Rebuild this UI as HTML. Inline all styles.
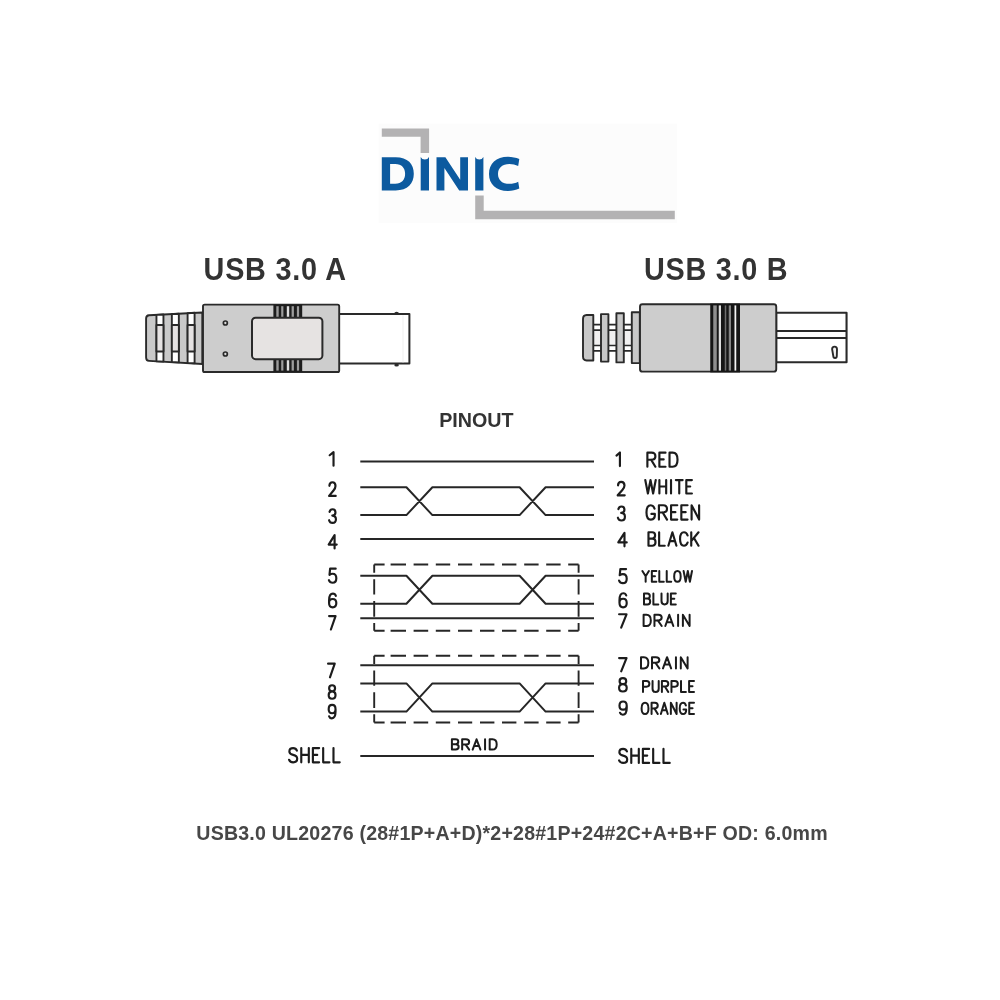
<!DOCTYPE html>
<html><head><meta charset="utf-8"><title>USB 3.0 A - USB 3.0 B pinout</title>
<style>
html,body{margin:0;padding:0;background:#fff;}
body{width:1000px;height:1000px;overflow:hidden;font-family:"Liberation Sans",sans-serif;}
svg{display:block;}
</style></head><body>
<svg width="1000" height="1000" viewBox="0 0 1000 1000">
<defs><filter id="soft" filterUnits="userSpaceOnUse" x="0" y="0" width="1000" height="1000" color-interpolation-filters="sRGB"><feGaussianBlur stdDeviation="0.4"/></filter></defs>
<rect width="1000" height="1000" fill="#ffffff"/>
<g filter="url(#soft)">

<rect x="378.6" y="123.6" width="298.5" height="99.6" fill="#fcfcfc"/>
<path d="M381.8,128.4 H429.1 V153 H420.6 V136.8 H381.8 Z" fill="#b3b2b3"/>
<path d="M475.2,195.6 H483.7 V210.8 H674.8 V219.3 H475.2 Z" fill="#b3b2b3"/>
<g fill="#0c5a9f"><title>DINIC</title>
<path fill-rule="evenodd" d="M381.8,157.2 H395.6 C407.8,157.2 413.8,163.9 413.8,173.8 C413.8,183.7 407.8,190.4 395.6,190.4 H381.8 Z M390.1,163.9 V183.7 H395.2 C401.8,183.7 405.1,179.8 405.1,173.8 C405.1,167.8 401.8,163.9 395.2,163.9 Z"/>
<path d="M420.7,156.9 A4.6,4.6 0 0 0 429,156.9 V190.4 H420.7 Z"/>
<path d="M436.5,190.4 V157.2 H445.4 L460.2,179.8 V157.2 H468 V190.4 H459.2 L444.4,167.9 V190.4 Z"/>
<path d="M475.2,156.9 A4.6,4.6 0 0 0 483.4,156.9 V190.4 H475.2 Z"/>
<path d="M519.3,159.1 C516,157.7 512,156.8 508,156.8 C496,156.8 489,163.8 489,173.9 C489,184 496,190.9 508,190.9 C512,190.9 516,190 519.3,188.6 L518.2,181.7 C515.6,183 512.6,183.8 509.4,183.8 C502.3,183.8 498,180 498,173.9 C498,167.8 502.3,163.9 509.4,163.9 C512.6,163.9 515.6,164.8 518.2,166.1 Z"/>
</g>

<g font-family="Liberation Sans, sans-serif" font-weight="bold">
<text transform="translate(203.6,279.8) scale(1,1.1)" font-size="28.8" letter-spacing="0.75" fill="#333">USB 3.0 A</text>
<text transform="translate(644,279.8) scale(1,1.1)" font-size="28.8" letter-spacing="0.75" fill="#333">USB 3.0 B</text>
<text transform="translate(439.2,426.8) scale(1,1.025)" font-size="19.7" fill="#333">PINOUT</text>
<text transform="translate(196.3,840.1) scale(1,1.045)" font-size="19.6" letter-spacing="0.205" fill="#474747">USB3.0 UL20276 (28#1P+A+D)*2+28#1P+24#2C+A+B+F OD: 6.0mm</text>
</g>
<!-- ============ USB 3.0 A connector ============ -->
<g stroke="#2a2a2a" stroke-width="1.9" stroke-linejoin="round">
  <!-- metal plug -->
  <ellipse cx="396.6" cy="313.3" rx="2.3" ry="1.5" fill="#2b2b2b" stroke="none"/>
  <ellipse cx="396.6" cy="364.9" rx="2.3" ry="1.5" fill="#2b2b2b" stroke="none"/>
  <rect x="339" y="314" width="70.4" height="49.4" fill="#ffffff" stroke-width="2"/>
  <path d="M403,315.2 V362.4" stroke="#efefef" stroke-width="1" fill="none"/>
  <!-- boot -->
  <path d="M149,315.3 L202.3,312.5 V364 L149,360.9 Q146.1,360.7 146.1,357.5 V318.6 Q146.1,315.4 149,315.2 Z" fill="#c9c9c9"/>
  <g fill="#ffffff">
    <path d="M156.45,314.9 L163.45,314.5 V361.6 L156.45,361.2 Z"/>
    <path d="M171.85,314.1 L178.85,313.7 V362.4 L171.85,362 Z"/>
    <path d="M187.6,313.2 L194.6,312.8 V363.3 L187.6,362.9 Z"/>
  </g>
  <g fill="#e5e2e2">
    <rect x="156.45" y="324.95" width="7" height="26.6"/>
    <rect x="171.85" y="324.95" width="7" height="26.6"/>
    <rect x="187.6" y="324.95" width="7" height="26.6"/>
  </g>
  <!-- body -->
  <rect x="203" y="304.6" width="136.2" height="67.4" rx="1.6" ry="1.6" fill="#cdcdcd"/>
  <!-- grip ribs -->
  <rect x="273.4" y="304.6" width="28.8" height="67.4" fill="#1d1d1d" stroke="none"/>
  <g fill="#9c9c9c" stroke="none">
    <rect x="276.3" y="306.2" width="2.4" height="64.4"/>
    <rect x="281.2" y="306.2" width="2.2" height="64.4"/>
    <rect x="286.8" y="306.2" width="2.4" height="64.4" fill="#dedede"/>
    <rect x="291.6" y="306.2" width="2.3" height="64.4"/>
    <rect x="296.9" y="306.2" width="2.2" height="64.4"/>
  </g>
  <!-- window -->
  <rect x="252" y="317.7" width="70.4" height="41.5" rx="3.6" ry="3.6" fill="#e6e3e2" stroke-width="2"/>
  <!-- holes -->
  <circle cx="225.35" cy="323" r="2" fill="#dcdcdc" stroke-width="1.7"/>
  <circle cx="225.35" cy="354" r="2" fill="#dcdcdc" stroke-width="1.7"/>
</g>

<!-- ============ USB 3.0 B connector ============ -->
<g stroke="#2a2a2a" stroke-width="1.9" stroke-linejoin="round">
  <!-- plug -->
  <rect x="776.2" y="312.8" width="70.35" height="49.5" fill="#ffffff" stroke-width="2.1"/>
  <path d="M776.2,331 H846.5 M776.2,338 H846.5" fill="none" stroke-width="2"/>
  <path d="M832.1,349.2 C832.1,345.7 837,345.7 837,349.2 L836.8,356 C836.8,358.7 833.3,358.7 833.3,356 Z" fill="#f4f4f4" stroke-width="1.9"/>
  <!-- boot core -->
  <rect x="590" y="324.6" width="45" height="26.2" fill="#ffffff" stroke="none"/>
  <rect x="590" y="330.1" width="45" height="15.4" fill="#f1f0f0" stroke="none"/>
  <path d="M590,324.6 H635 M590,330.1 H635 M590,345.5 H635 M590,350.85 H635" fill="none" stroke-width="1.7"/>
  <!-- boot ribs -->
  <path d="M586.6,315 H593.3 V360.5 H586.6 Q583,360.3 583,356.6 V318.9 Q583,315.2 586.6,315 Z" fill="#c8c8c8"/>
  <rect x="601" y="314.1" width="7.4" height="47.5" fill="#c8c8c8"/>
  <rect x="616.4" y="313.2" width="7.4" height="49.2" fill="#c8c8c8"/>
  <rect x="631.8" y="312.2" width="8" height="50.9" fill="#c8c8c8"/>
  <!-- body -->
  <rect x="640" y="304.3" width="136.25" height="67.3" rx="2.4" ry="2.4" fill="#cdcdcd"/>
  <!-- band -->
  <rect x="710.25" y="303.6" width="29.75" height="68.8" fill="#161616" stroke="none"/>
  <g stroke="none">
    <rect x="713.25" y="305.4" width="3.5" height="65.2" fill="#8f8f8f"/>
    <rect x="718.75" y="305.4" width="2.25" height="65.2" fill="#dedede"/>
    <rect x="724.75" y="305.4" width="1.5" height="65.2" fill="#6f6f6f"/>
    <rect x="728.75" y="305.4" width="2.25" height="65.2" fill="#858585"/>
    <rect x="734.5" y="305.4" width="1.75" height="65.2" fill="#f4f4f4"/>
  </g>
</g>
<path d="M360.3,461.5 H594.0 M360.3,487.2 H406.4 L432.4,515.1 H519.6 L545.6,487.2 H594.0M360.3,515.1 H406.4 L432.4,487.2 H519.6 L545.6,515.1 H594.0 M360.3,539.0 H594.0 M360.3,575.7 H406.4 L432.4,603.7 H519.6 L545.6,575.7 H594.0M360.3,603.7 H406.4 L432.4,575.7 H519.6 L545.6,603.7 H594.0 M360.3,618.3 H594.0 M360.3,665.2 H594.0 M360.3,683.4 H406.4 L432.4,711.6 H519.6 L545.6,683.4 H594.0M360.3,711.6 H406.4 L432.4,683.4 H519.6 L545.6,711.6 H594.0 M360.3,756.0 H594.0" fill="none" stroke="#262626" stroke-width="2.0" stroke-linejoin="round"/>
<path d="M374.2,564.5 H384.6 M390.6,564.5 H406.0 M413.6,564.5 H428.2 M435.8,564.5 H450.2 M458.0,564.5 H472.2 M480.0,564.5 H494.4 M502.0,564.5 H516.4 M524.2,564.5 H538.6 M546.2,564.5 H560.6 M568.2,564.5 H578.6 M374.2,630.7 H384.6 M390.6,630.7 H406.0 M413.6,630.7 H428.2 M435.8,630.7 H450.2 M458.0,630.7 H472.2 M480.0,630.7 H494.4 M502.0,630.7 H516.4 M524.2,630.7 H538.6 M546.2,630.7 H560.6 M568.2,630.7 H578.6 M374.2,564.5 V572.7 M374.2,579.3 V594.5 M374.2,600.9 V616.7 M374.2,622.9 V630.7 M578.6,564.5 V572.7 M578.6,579.3 V594.5 M578.6,600.9 V616.7 M578.6,622.9 V630.7" fill="none" stroke="#262626" stroke-width="1.9"/>
<path d="M374.2,655.8 H384.6 M390.6,655.8 H406.0 M413.6,655.8 H428.2 M435.8,655.8 H450.2 M458.0,655.8 H472.2 M480.0,655.8 H494.4 M502.0,655.8 H516.4 M524.2,655.8 H538.6 M546.2,655.8 H560.6 M568.2,655.8 H578.6 M374.2,722.5 H384.6 M390.6,722.5 H406.0 M413.6,722.5 H428.2 M435.8,722.5 H450.2 M458.0,722.5 H472.2 M480.0,722.5 H494.4 M502.0,722.5 H516.4 M524.2,722.5 H538.6 M546.2,722.5 H560.6 M568.2,722.5 H578.6 M374.2,655.8 V664.0 M374.2,670.6 V685.8 M374.2,692.2 V708.0 M374.2,714.2 V722.5 M578.6,655.8 V664.0 M578.6,670.6 V685.8 M578.6,692.2 V708.0 M578.6,714.2 V722.5" fill="none" stroke="#262626" stroke-width="1.9"/>
<g fill="none" stroke="#1c1c1c" stroke-linecap="round" stroke-linejoin="round">
<path d="M329.68,455.21L333.53,452.07L333.53,465.73" stroke-width="2.15"><title>1</title></path>
<path d="M329.41,485.82Q329.52,482.27 332.40,482.27Q335.50,482.27 335.50,485.96Q335.50,488.14 333.51,490.46L329.07,495.93L335.73,495.93" stroke-width="2.15"><title>2</title></path>
<path d="M329.53,511.87Q330.22,509.27 332.50,509.27Q335.47,509.27 335.47,512.55Q335.47,515.55 332.27,515.55Q335.93,515.55 335.93,519.24Q335.93,522.92 332.50,522.92Q329.87,522.92 329.07,520.19" stroke-width="2.15"><title>3</title></path>
<path d="M334.59,548.52L334.59,535.08L328.68,544.62L336.73,544.62" stroke-width="2.15"><title>4</title></path>
<path d="M335.70,568.68L330.12,568.68L329.50,574.86Q330.86,573.73 332.60,573.73Q336.32,573.73 336.32,578.23Q336.32,582.72 332.60,582.72Q329.87,582.72 328.88,580.20" stroke-width="2.15"><title>5</title></path>
<path d="M335.84,595.86Q335.12,593.68 332.94,593.68Q329.07,593.68 329.07,600.50L329.07,602.96Q329.07,607.32 332.70,607.32Q336.32,607.32 336.32,603.09Q336.32,599.00 332.70,599.00Q329.07,599.00 329.07,602.96" stroke-width="2.15"><title>6</title></path>
<path d="M329.07,616.08L335.53,616.08L330.90,629.52" stroke-width="2.15"><title>7</title></path>
<path d="M328.07,663.68L334.73,663.68L329.96,677.32" stroke-width="2.15"><title>7</title></path>
<path d="M332.10,685.28Q329.13,685.28 329.13,688.37Q329.13,691.33 332.10,691.33Q335.53,691.33 335.53,694.96Q335.53,698.72 332.10,698.72Q328.68,698.72 328.68,694.96Q328.68,691.33 332.10,691.33Q335.07,691.33 335.07,688.37Q335.07,685.28 332.10,685.28Z" stroke-width="2.15"><title>8</title></path>
<path d="M335.53,709.18Q335.53,713.21 332.10,713.21Q328.68,713.21 328.68,709.18Q328.68,704.88 332.10,704.88Q335.53,704.88 335.53,709.18L335.53,711.60Q335.53,718.32 331.87,718.32Q329.82,718.32 329.13,716.31" stroke-width="2.15"><title>9</title></path>
<path d="M296.91,750.64Q295.90,748.08 293.14,748.08Q289.37,748.08 289.37,751.50Q289.37,754.06 293.14,754.91Q297.20,755.91 297.20,758.76Q297.20,762.32 293.14,762.32Q290.24,762.32 289.07,759.76M301.27,748.08L301.27,762.32M308.81,748.08L308.81,762.32M301.27,754.91L308.81,754.91M319.12,748.08L312.88,748.08L312.88,762.32L319.12,762.32M312.88,754.91L317.23,754.91M323.18,748.08L323.18,762.32L329.42,762.32M333.48,748.08L333.48,762.32L339.73,762.32" stroke-width="2.15"><title>SHELL</title></path>
<path d="M616.48,455.61L619.92,452.47L619.92,466.12" stroke-width="2.15"><title>1</title></path>
<path d="M618.03,485.37Q618.15,481.88 621.20,481.88Q624.49,481.88 624.49,485.51Q624.49,487.66 622.38,489.94L617.68,495.32L624.72,495.32" stroke-width="2.15"><title>2</title></path>
<path d="M618.35,509.14Q619.05,506.47 621.40,506.47Q624.45,506.47 624.45,509.85Q624.45,512.94 621.16,512.94Q624.92,512.94 624.92,516.73Q624.92,520.52 621.40,520.52Q618.70,520.52 617.88,517.71" stroke-width="2.15"><title>3</title></path>
<path d="M624.48,546.32L624.48,532.88L618.28,542.42L626.72,542.42" stroke-width="2.15"><title>4</title></path>
<path d="M626.09,569.08L620.35,569.08L619.71,575.26Q621.12,574.13 622.90,574.13Q626.72,574.13 626.72,578.63Q626.72,583.12 622.90,583.12Q620.10,583.12 619.08,580.60" stroke-width="2.15"><title>5</title></path>
<path d="M626.24,595.52Q625.52,593.28 623.34,593.28Q619.48,593.28 619.48,600.30L619.48,602.83Q619.48,607.32 623.10,607.32Q626.72,607.32 626.72,602.97Q626.72,598.75 623.10,598.75Q619.48,598.75 619.48,602.83" stroke-width="2.15"><title>6</title></path>
<path d="M619.08,614.28L626.52,614.28L621.19,627.72" stroke-width="2.15"><title>7</title></path>
<path d="M619.08,658.08L626.52,658.08L621.19,671.32" stroke-width="2.15"><title>7</title></path>
<path d="M622.90,678.08Q619.59,678.08 619.59,681.17Q619.59,684.13 622.90,684.13Q626.72,684.13 626.72,687.76Q626.72,691.52 622.90,691.52Q619.08,691.52 619.08,687.76Q619.08,684.13 622.90,684.13Q626.21,684.13 626.21,681.17Q626.21,678.08 622.90,678.08Z" stroke-width="2.15"><title>8</title></path>
<path d="M626.72,705.72Q626.72,709.69 623.10,709.69Q619.48,709.69 619.48,705.72Q619.48,701.48 623.10,701.48Q626.72,701.48 626.72,705.72L626.72,708.10Q626.72,714.72 622.86,714.72Q620.68,714.72 619.96,712.74" stroke-width="2.15"><title>9</title></path>
<path d="M626.91,751.40Q625.90,748.88 623.14,748.88Q619.37,748.88 619.37,752.25Q619.37,754.78 623.14,755.62Q627.20,756.60 627.20,759.41Q627.20,762.92 623.14,762.92Q620.24,762.92 619.08,760.40M631.27,748.88L631.27,762.92M638.81,748.88L638.81,762.92M631.27,755.62L638.81,755.62M649.12,748.88L642.88,748.88L642.88,762.92L649.12,762.92M642.88,755.62L647.23,755.62M653.18,748.88L653.18,762.92L659.42,762.92M663.48,748.88L663.48,762.92L669.72,762.92" stroke-width="2.15"><title>SHELL</title></path>
<path d="M647.38,466.73L647.38,452.68L651.66,452.68Q655.38,452.68 655.38,456.19Q655.38,459.70 651.66,459.70L647.38,459.70M651.09,459.70L655.38,466.73M665.52,452.68L659.38,452.68L659.38,466.73L665.52,466.73M659.38,459.42L663.66,459.42M669.52,452.68L669.52,466.73L672.67,466.73Q677.52,466.73 677.52,459.70Q677.52,452.68 672.67,452.68L669.52,452.68" stroke-width="2.15"><title>RED</title></path>
<path d="M645.28,480.07L647.89,493.53L650.50,480.07L653.12,493.53L655.73,480.07M659.39,480.07L659.39,493.53M666.18,480.07L666.18,493.53M659.39,486.53L666.18,486.53M671.02,480.07L671.02,493.53M675.85,480.07L682.65,480.07M679.25,480.07L679.25,493.53M691.92,480.07L686.31,480.07L686.31,493.53L691.92,493.53M686.31,486.53L690.23,486.53" stroke-width="2.15"><title>WHITE</title></path>
<path d="M654.58,508.72Q653.56,505.27 650.81,505.27Q646.48,505.27 646.48,512.45Q646.48,519.62 650.81,519.62Q654.86,519.62 654.86,514.75L654.86,513.88L651.39,513.88M658.91,519.62L658.91,505.27L663.25,505.27Q667.01,505.27 667.01,508.86Q667.01,512.45 663.25,512.45L658.91,512.45M662.67,512.45L667.01,519.62M677.28,505.27L671.06,505.27L671.06,519.62L677.28,519.62M671.06,512.16L675.40,512.16M687.55,505.27L681.33,505.27L681.33,519.62L687.55,519.62M681.33,512.16L685.67,512.16M691.60,519.62L691.60,505.27L699.12,519.62L699.12,505.27" stroke-width="2.15"><title>GREEN</title></path>
<path d="M648.48,532.28L648.48,545.72L652.38,545.72Q655.50,545.72 655.50,542.09Q655.50,538.60 652.38,538.60L648.48,538.60M652.38,538.60Q655.11,538.60 655.11,535.37Q655.11,532.28 652.25,532.28L648.48,532.28M659.13,532.28L659.13,545.72L664.73,545.72M668.37,545.72L672.39,532.28L676.42,545.72M669.79,541.15L675.00,541.15M687.61,535.50Q686.56,532.28 683.97,532.28Q680.06,532.28 680.06,539.00Q680.06,545.72 683.97,545.72Q686.56,545.72 687.61,542.50M691.25,532.28L691.25,545.72M698.52,532.28L691.25,541.15M693.98,537.92L698.52,545.72" stroke-width="2.15"><title>BLACK</title></path>
<path d="M642.40,571.00L645.65,576.18L648.90,571.00M645.65,576.18L645.65,581.80M656.35,571.00L651.84,571.00L651.84,581.80L656.35,581.80M651.84,576.18L654.98,576.18M659.28,571.00L659.28,581.80L663.79,581.80M666.73,571.00L666.73,581.80L671.24,581.80M677.42,571.00Q674.17,571.00 674.17,576.40Q674.17,581.80 677.42,581.80Q680.67,581.80 680.67,576.40Q680.67,571.00 677.42,571.00ZM683.61,571.00L685.71,581.80L687.81,571.00L689.90,581.80L692.00,571.00" stroke-width="2.00"><title>YELLOW</title></path>
<path d="M644.00,593.40L644.00,604.40L647.43,604.40Q650.18,604.40 650.18,601.43Q650.18,598.57 647.43,598.57L644.00,598.57M647.43,598.57Q649.83,598.57 649.83,595.93Q649.83,593.40 647.32,593.40L644.00,593.40M653.38,593.40L653.38,604.40L658.30,604.40M661.50,593.40L661.50,601.10Q661.50,604.40 664.59,604.40Q667.68,604.40 667.68,601.10L667.68,593.40M675.80,593.40L670.88,593.40L670.88,604.40L675.80,604.40M670.88,598.68L674.31,598.68" stroke-width="2.00"><title>BLUE</title></path>
<path d="M643.60,614.80L643.60,626.00L646.44,626.00Q650.84,626.00 650.84,620.40Q650.84,614.80 646.44,614.80L643.60,614.80M654.45,626.00L654.45,614.80L658.33,614.80Q661.69,614.80 661.69,617.60Q661.69,620.40 658.33,620.40L654.45,620.40M657.81,620.40L661.69,626.00M665.31,626.00L669.31,614.80L673.32,626.00M666.73,622.19L671.90,622.19M678.10,614.80L678.10,626.00M682.88,626.00L682.88,614.80L689.60,626.00L689.60,614.80" stroke-width="2.00"><title>DRAIN</title></path>
<path d="M641.00,657.20L641.00,668.40L643.88,668.40Q648.33,668.40 648.33,662.80Q648.33,657.20 643.88,657.20L641.00,657.20M652.00,668.40L652.00,657.20L655.92,657.20Q659.33,657.20 659.33,660.00Q659.33,662.80 655.92,662.80L652.00,662.80M655.40,662.80L659.33,668.40M662.99,668.40L667.05,657.20L671.11,668.40M664.43,664.59L669.67,664.59M675.95,657.20L675.95,668.40M680.79,668.40L680.79,657.20L687.60,668.40L687.60,657.20" stroke-width="2.00"><title>DRAIN</title></path>
<path d="M643.00,692.00L643.00,681.00L646.42,681.00Q649.38,681.00 649.38,683.86Q649.38,686.72 646.42,686.72L643.00,686.72M652.56,681.00L652.56,688.70Q652.56,692.00 655.64,692.00Q658.71,692.00 658.71,688.70L658.71,681.00M661.90,692.00L661.90,681.00L665.31,681.00Q668.27,681.00 668.27,683.75Q668.27,686.50 665.31,686.50L661.90,686.50M664.86,686.50L668.27,692.00M671.46,692.00L671.46,681.00L674.88,681.00Q677.83,681.00 677.83,683.86Q677.83,686.72 674.88,686.72L671.46,686.72M681.02,681.00L681.02,692.00L685.92,692.00M694.00,681.00L689.10,681.00L689.10,692.00L694.00,692.00M689.10,686.28L692.52,686.28" stroke-width="2.00"><title>PURPLE</title></path>
<path d="M645.03,702.80Q641.60,702.80 641.60,708.40Q641.60,714.00 645.03,714.00Q648.47,714.00 648.47,708.40Q648.47,702.80 645.03,702.80ZM651.57,714.00L651.57,702.80L654.89,702.80Q657.77,702.80 657.77,705.60Q657.77,708.40 654.89,708.40L651.57,708.40M654.45,708.40L657.77,714.00M660.88,714.00L664.31,702.80L667.74,714.00M662.09,710.19L666.53,710.19M670.85,714.00L670.85,702.80L676.61,714.00L676.61,702.80M685.91,705.49Q685.14,702.80 683.03,702.80Q679.71,702.80 679.71,708.40Q679.71,714.00 683.03,714.00Q686.13,714.00 686.13,710.19L686.13,709.52L683.48,709.52M694.00,702.80L689.24,702.80L689.24,714.00L694.00,714.00M689.24,708.18L692.56,708.18" stroke-width="2.00"><title>ORANGE</title></path>
<path d="M451.90,739.30L451.90,749.60L455.65,749.60Q458.66,749.60 458.66,746.82Q458.66,744.14 455.65,744.14L451.90,744.14M455.65,744.14Q458.28,744.14 458.28,741.67Q458.28,739.30 455.53,739.30L451.90,739.30M462.16,749.60L462.16,739.30L465.92,739.30Q469.17,739.30 469.17,741.88Q469.17,744.45 465.92,744.45L462.16,744.45M465.42,744.45L469.17,749.60M472.67,749.60L476.55,739.30L480.43,749.60M474.05,746.10L479.06,746.10M485.06,739.30L485.06,749.60M489.69,739.30L489.69,749.60L492.45,749.60Q496.70,749.60 496.70,744.45Q496.70,739.30 492.45,739.30L489.69,739.30" stroke-width="2.00"><title>BRAID</title></path>
</g>
</g>
</svg>
</body></html>
